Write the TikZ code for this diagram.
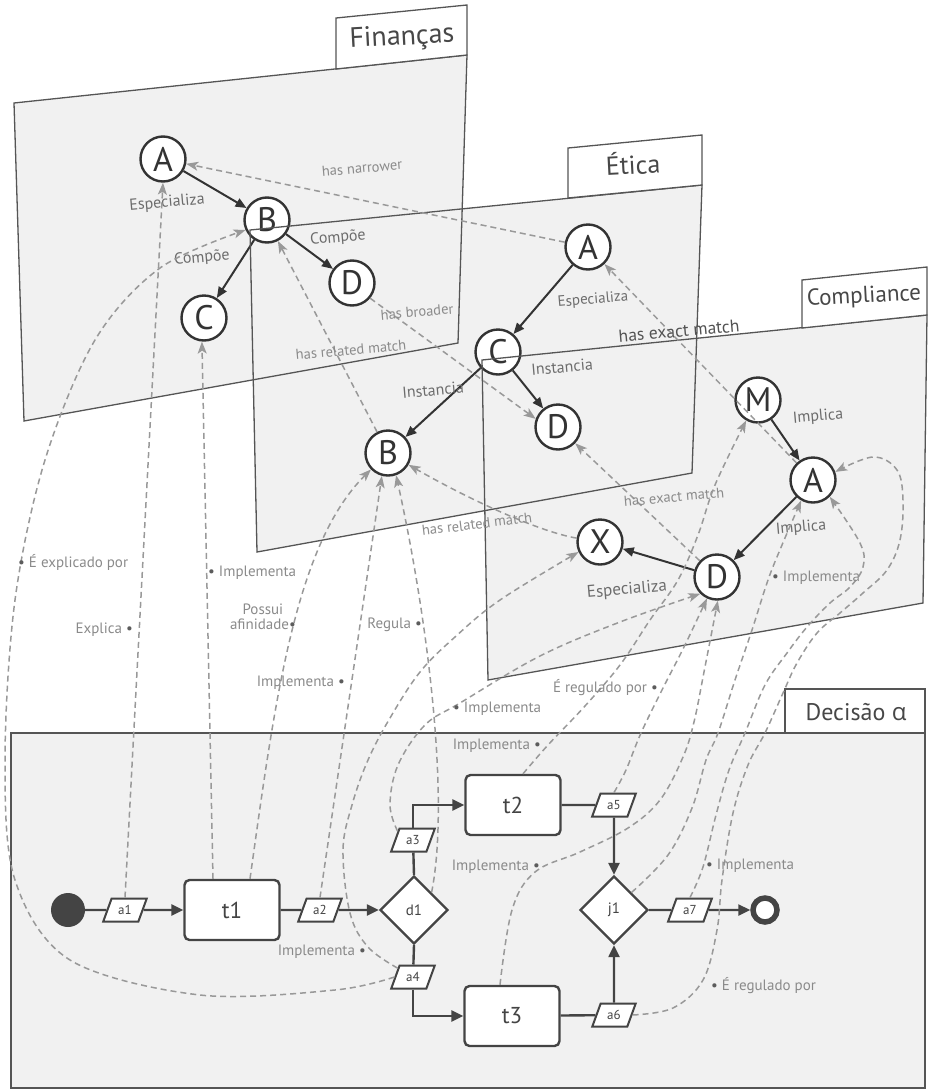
\documentclass[tikz,border=0pt]{standalone}
\usepackage{fontspec}
\setmainfont{PT Sans}
\newfontfamily\grk{Open Sans}
\usetikzlibrary{arrows.meta,shapes.geometric}
\definecolor{planefill}{HTML}{F1F1F1}
\definecolor{linec}{HTML}{555555}
\definecolor{nodec}{HTML}{333333}
\definecolor{dashc}{HTML}{999999}
\definecolor{lblc}{HTML}{8A8A8A}
\definecolor{relc}{HTML}{6C6C6C}
\definecolor{flowc}{HTML}{444444}
\newcommand{\myfz}[1]{\fontsize{#1}{#1}\selectfont}
\newcommand{\dotb}{{\color{nodec!80}\textbullet}}
\begin{document}
\begin{tikzpicture}[x=1pt,y=-1pt,
  planef/.style={fill=planefill},
  planeb/.style={draw=linec, line width=1.3pt},
  tabs/.style={draw=linec, line width=1.3pt, fill=white},
  title/.style={text=nodec!90, inner sep=0pt},
  cnode/.style={circle, draw=nodec, line width=2.4pt, fill=white, minimum size=45pt, inner sep=0pt, font=\myfz{34}, text=nodec},
  rel/.style={draw=nodec, line width=2pt, -{Triangle[length=11pt,width=9pt]}},
  rlbl/.style={text=relc, font=\myfz{16}, rotate=5, inner sep=0pt},
  lnk/.style={draw=dashc, line width=1.5pt, dash pattern=on 6pt off 4pt, -{Stealth[length=12pt,width=9pt,inset=3pt]}},
  ilbl/.style={text=lblc, font=\myfz{14.5}, rotate=5, inner sep=0pt},
  dlbl/.style={text=lblc, font=\myfz{15}, inner sep=0pt},
  flow/.style={draw=flowc, line width=2.4pt},
  flowa/.style={flow, -{Triangle[length=12pt,width=11pt]}},
  par/.style={trapezium, trapezium left angle=70, trapezium right angle=110, draw=flowc, line width=2pt, fill=white, inner xsep=1pt, inner ysep=2pt, minimum height=23pt, minimum width=38pt, font=\myfz{13}, text=flowc},
  task/.style={rectangle, rounded corners=5pt, draw=flowc, line width=2.4pt, fill=white, minimum width=95pt, minimum height=60pt, font=\myfz{23}, text=flowc},
  gate/.style={diamond, aspect=1, draw=flowc, line width=2.4pt, fill=white, minimum size=68pt, inner sep=0pt, font=\myfz{15}, text=flowc},
  startc/.style={circle, fill=flowc, minimum size=34pt, inner sep=0pt},
  endc/.style={circle, draw=flowc, line width=5.5pt, fill=white, minimum size=24pt, inner sep=0pt}
]
\useasboundingbox (0,0) rectangle (929,1090);

% plane corners
\coordinate (F1) at (14,103); \coordinate (F2) at (467,55); \coordinate (F3) at (458,343); \coordinate (F4) at (24,421);
\coordinate (E1) at (250,230); \coordinate (E2) at (702,185); \coordinate (E3) at (692,473); \coordinate (E4) at (257,552);
\coordinate (C1) at (482,360); \coordinate (C2) at (927,315); \coordinate (C3) at (923,603); \coordinate (C4) at (488,680);

% plane fills first
\fill[planef] (F1) -- (F2) -- (F3) -- (F4) -- cycle;
\fill[planef] (E1) -- (E2) -- (E3) -- (E4) -- cycle;
\fill[planef] (C1) -- (C2) -- (C3) -- (C4) -- cycle;
\fill[planef] (11,733) rectangle (925,1088);

% ---------- Financas plane ----------
\draw[planeb] (F1) -- (F2) -- (F3) -- (F4) -- cycle;
\draw[tabs] (336,69) -- (336,18) -- (467,5) -- (467,55) -- cycle;
\node[title, font=\myfz{28}, rotate=3] (tFin) at (402,38) {Finanças};
\node[cnode] (fA) at (163,159) {A};
\node[cnode] (fB) at (267,220) {B};
\node[cnode] (fC) at (204,318) {C};
\node[cnode] (fD) at (352,283) {D};
\draw[rel] (fA) -- (fB);
\draw[rel] (fB) -- (fC);
\draw[rel] (fB) -- (fD);
\node[rlbl] (lfEsp) at (167,203) {Especializa};
\node[rlbl] (lfCo1) at (202,258) {Compõe};
\node[rlbl] (lfCo2) at (338,238) {Compõe};

% ---------- Etica plane ----------
\draw[planeb] (E1) -- (E2) -- (E3) -- (E4) -- cycle;
\draw[tabs] (568,198) -- (568,148) -- (702,135) -- (702,185) -- cycle;
\node[title, font=\myfz{26}, rotate=3] (tEt) at (633,163) {Ética};
\node[cnode] (eA) at (588,247) {A};
\node[cnode] (eC) at (498,352) {C};
\node[cnode] (eD) at (558,427) {D};
\node[cnode] (eB) at (388,453) {B};
\draw[rel] (eA) -- (eC);
\draw[rel] (eC) -- (eB);
\draw[rel] (eC) -- (eD);
\node[rlbl, font=\myfz{15}] (leEsp) at (593,300) {Especializa};
\node[rlbl] (leIn1) at (433,390) {Instancia};
\node[rlbl] (leIn2) at (562,367) {Instancia};

% ---------- Compliance plane ----------
\draw[planeb] (C1) -- (C2) -- (C3) -- (C4) -- cycle;
\draw[tabs] (802,328) -- (802,280) -- (927,267) -- (927,315) -- cycle;
\node[title, font=\myfz{23}, rotate=3] (tCo) at (864,297) {Compliance};
\node[cnode] (cM) at (758,400) {M};
\node[cnode] (cA) at (813,480) {A};
\node[cnode] (cD) at (717,577) {D};
\node[cnode] (cX) at (600,542) {X};
\draw[rel] (cM) -- (cA);
\draw[rel] (cA) -- (cD);
\draw[rel] (cD) -- (cX);
\node[rlbl] (lcIm1) at (818,417) {Implica};
\node[rlbl] (lcIm2) at (801,528) {Implica};
\node[rlbl, font=\myfz{17}] (lcEsp) at (627,590) {Especializa};

% ---------- Decisao plane ----------
\draw[planeb] (11,733) rectangle (925,1088);
\draw[tabs] (785,733) rectangle (925,689);
\node[title, font=\myfz{24}] (tDe) at (856,712) {Decisão {\grk α}};

\node[startc] (st) at (68,910) {};
\node[par] (a1) at (125,910) {a1};
\node[task] (t1) at (232,910) {t1};
\node[par] (a2) at (320,910) {a2};
\node[gate] (d1) at (414,910) {d1};
\node[par] (a3) at (413,840) {a3};
\node[par] (a4) at (413,977) {a4};
\node[task] (t2) at (513,805) {t2};
\node[task] (t3) at (512,1016) {t3};
\node[par] (a5) at (614,805) {a5};
\node[par] (a6) at (614,1015) {a6};
\node[gate] (j1) at (614,910) {j1};
\node[par] (a7) at (690,910) {a7};
\node[endc] (en) at (765,910) {};

\draw[flow] (st) -- (a1);
\draw[flowa] (a1) -- (t1);
\draw[flow] (t1) -- (a2);
\draw[flowa] (a2) -- (d1);
\draw[flow] (d1.north) -- (a3);
\draw[flowa] (a3.north) |- (t2.west);
\draw[flow] (d1.south) -- (a4);
\draw[flowa] (a4.south) |- (t3.west);
\draw[flow] (t2) -- (a5);
\draw[flowa] (a5) -- (j1);
\draw[flow] (t3) -- (a6);
\draw[flowa] (a6) -- (j1);
\draw[flow] (j1) -- (a7);
\draw[flowa] (a7) -- (en);

% ---------- inter-plane links ----------
\draw[lnk] (eA) -- (fA);
\draw[lnk] (fD.320) -- (eD.160);
\draw[lnk] (eB) -- (fB);
\draw[lnk] (cA) -- (eA);
\draw[lnk] (cD) -- (eD);
\draw[lnk] (cX) .. controls (540,532) and (470,500) .. (eB);
\node[ilbl] (lNar) at (362,168) {has narrower};
\node[ilbl] (lBro) at (417,312) {has broader};
\node[ilbl] (lRel1) at (351,350) {has related match};
\node[ilbl, text=nodec!85, font=\myfz{17.5}] (lExa1) at (679,331) {has exact match};
\node[ilbl] (lExa2) at (674,497) {has exact match};
\node[ilbl, rotate=2] (lRel2) at (477,524) {has related match};

% ---------- process links ----------
\draw[lnk] (a1.north) -- (fA.south);
\draw[lnk] plot[smooth, tension=0.55] coordinates {(a4.west) (335,990) (200,995) (70,960) (15,880) (5,760) (15,600) (45,460) (95,340) (160,268) (fB.205)};
\draw[lnk] ([xshift=-19pt]t1.north) -- (fC.265);
\draw[lnk] ([xshift=18pt]t1.north) .. controls (275,700) and (295,545) .. (eB.224);
\draw[lnk] (a2.north) -- (eB.255);
\draw[lnk] (d1.north east) .. controls (450,800) and (428,620) .. (eB.290);
\draw[lnk] plot[smooth, tension=0.6] coordinates {(a3.150) (390,805) (398,765) (425,725) (460,703) (540,656) (620,622) (cD.225)};
\draw[lnk] plot[smooth, tension=0.6] coordinates {(a4.150) (368,947) (350,913) (343,850) (352,805) (368,760) (390,718) (420,672) (455,637) (500,600) (cX.205)};
\draw[lnk] plot[smooth, tension=0.6] coordinates {([xshift=10pt]t2.north) (548,745) (585,706) (620,665) (650,620) (678,580) (698,535) (715,485) (cM.240)};
\draw[lnk] plot[smooth, tension=0.6] coordinates {(a5.north) (626,770) (641,733) (663,688) (684,647) (cD.245)};
\draw[lnk] plot[smooth, tension=0.6] coordinates {([xshift=-12pt]t3.north) (512,910) (535,872) (580,852) (628,828) (660,800) (683,757) (694,722) (704,672) (cD.272)};
\draw[lnk] plot[smooth, tension=0.6] coordinates {(j1.north east) (668,855) (692,808) (706,760) (718,733) (735,680) (752,630) (768,580) (782,545) (cA.240)};
\draw[lnk] plot[smooth, tension=0.6] coordinates {(a7.north) (703,867) (716,815) (729,770) (745,733) (765,685) (787,653) (807,627) (830,603) (850,587) (863,567) (860,543) (cA.315)};
\draw[lnk] plot[smooth, tension=0.6] coordinates {(a6.east) (673,1008) (703,980) (717,930) (722,880) (733,813) (748,765) (765,733) (783,693) (797,663) (817,633) (840,613) (863,593) (887,570) (900,540) (903,500) (897,470) (873,457) (cA.20)};

\node[dlbl, anchor=west] (pExp) at (18,562) {\dotb\ É explicado por};
\node[dlbl, anchor=east] (pExa) at (133,630) {Explica \dotb};
\node[dlbl, anchor=west] (pImp1) at (208,573) {\dotb\ Implementa};
\node[dlbl, anchor=east, align=center] (pPos) at (296,617) {Possui\\afinidade\dotb};
\node[dlbl, anchor=east] (pImp2) at (345,683) {Implementa \dotb};
\node[dlbl, anchor=east] (pReg) at (422,625) {Regula \dotb};
\node[dlbl, anchor=west] (pImp3) at (453,709) {\dotb\ Implementa};
\node[dlbl, anchor=east] (pReg2) at (658,688) {É regulado por \dotb};
\node[dlbl, anchor=east] (pImp4) at (541,746) {Implementa \dotb};
\node[dlbl, anchor=east] (pImp5) at (540,867) {Implementa \dotb};
\node[dlbl, anchor=west] (pImp6) at (772,578) {\dotb\ Implementa};
\node[dlbl, anchor=west] (pImp7) at (706,866) {\dotb\ Implementa};
\node[dlbl, anchor=west] (pReg3) at (711,986) {\dotb\ É regulado por};
\node[dlbl, anchor=east] (pImp8) at (366,952) {Implementa \dotb};
\end{tikzpicture}
\end{document}
